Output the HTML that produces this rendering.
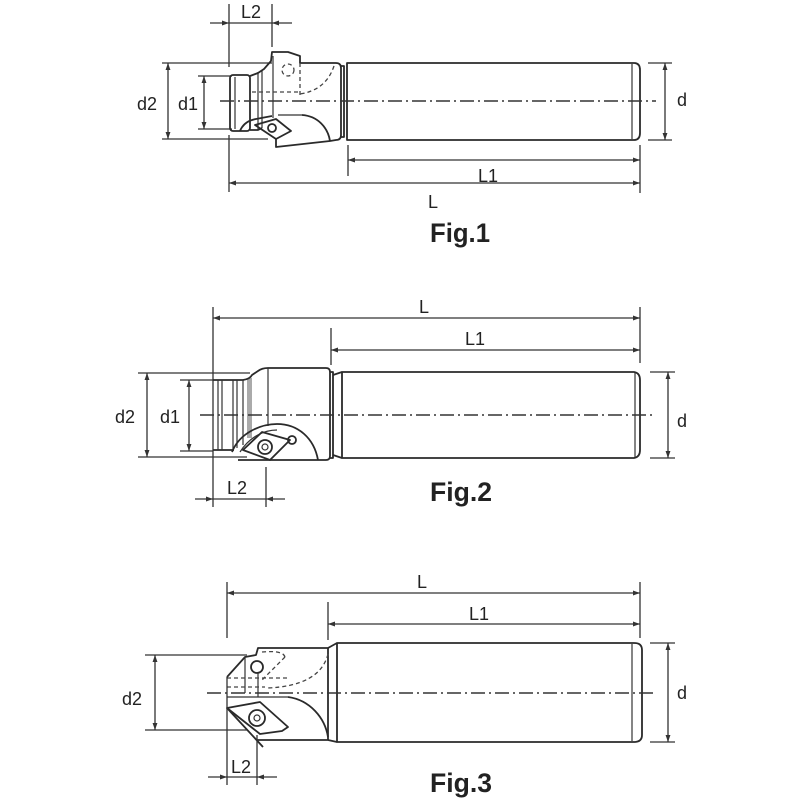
<!DOCTYPE html>
<html><head><meta charset="utf-8"><style>
html,body{margin:0;padding:0;background:#fff;}
svg{display:block;}
text{font-family:"Liberation Sans",sans-serif;fill:#222;}
.o{fill:none;stroke:#2a2a2a;stroke-width:1.8;stroke-linejoin:round;}
.t{fill:none;stroke:#333;stroke-width:1.2;}
.dm{fill:none;stroke:#333;stroke-width:1.3;}
.ds{fill:none;stroke:#444;stroke-width:1.3;stroke-dasharray:4 3;}
.c{fill:none;stroke:#333;stroke-width:1.4;stroke-dasharray:14 4 2 4;}
.lb{font-size:18px;}
.fg{font-size:27px;font-weight:bold;}
</style></head><body>
<svg width="800" height="800" viewBox="0 0 800 800" xmlns="http://www.w3.org/2000/svg">
<defs>
<marker id="a" viewBox="0 0 10 10" refX="10" refY="5" markerWidth="7" markerHeight="7" markerUnits="userSpaceOnUse" orient="auto-start-reverse">
<path d="M0,1.5 L10,5 L0,8.5 Z" fill="#333"/>
</marker>
</defs>

<!-- ============ FIG 1 ============ -->
<!-- L2 -->
<line class="dm" x1="229" y1="4" x2="229" y2="67"/>
<line class="dm" x1="272" y1="4" x2="272" y2="47"/>
<line class="dm" x1="229" y1="23" x2="272" y2="23"/>
<line class="dm" x1="210" y1="23" x2="229" y2="23" marker-end="url(#a)"/>
<line class="dm" x1="292" y1="23" x2="272" y2="23" marker-end="url(#a)"/>
<text class="lb" x="251" y="18" text-anchor="middle">L2</text>
<!-- d2 -->
<line class="dm" x1="162" y1="63" x2="272" y2="63"/>
<line class="dm" x1="162" y1="139" x2="268" y2="139"/>
<line class="dm" x1="168" y1="63" x2="168" y2="139" marker-start="url(#a)" marker-end="url(#a)"/>
<text class="lb" x="147" y="110" text-anchor="middle">d2</text>
<!-- d1 -->
<line class="dm" x1="198" y1="76" x2="232" y2="76"/>
<line class="dm" x1="198" y1="129" x2="232" y2="129"/>
<line class="dm" x1="204" y1="76" x2="204" y2="129" marker-start="url(#a)" marker-end="url(#a)"/>
<text class="lb" x="188" y="110" text-anchor="middle">d1</text>
<!-- head -->
<rect class="o" x="230" y="75" width="20" height="56" rx="3"/>
<line class="t" x1="235" y1="77" x2="235" y2="129"/>
<line class="t" x1="258" y1="72" x2="258" y2="130"/>
<line class="t" x1="262" y1="70" x2="262" y2="128"/>
<path class="o" d="M250,76 L258,73 L264,69 L271,61 L272,52 L288,52 L300,56 L300,63 L336,63 Q341,63 341,68 L341,135 Q341,140 336,140 L330,141 L276,147 L276,139"/>
<path class="o" d="M250,130 L258,130 L262,128"/>
<line class="t" x1="273" y1="56" x2="273" y2="118"/>
<line class="ds" x1="300" y1="63" x2="300" y2="95"/>
<circle class="ds" cx="288" cy="70" r="6"/>
<path class="ds" d="M334,66 Q326,90 300,94"/>
<line class="ds" x1="252" y1="92" x2="300" y2="92"/>
<line class="t" x1="278" y1="115" x2="302" y2="115"/>
<path class="o" d="M302,115 C318,116 328,128 330,141"/>
<path class="o" d="M240,131 Q244,121 256,119 L272,116"/>
<path class="o" d="M255,125 L276,119 L291,131 L276,139 Z"/>
<circle class="o" cx="272" cy="128" r="4"/>
<!-- shank -->
<path class="o" d="M341,66 L344,66 L344,137 L341,137"/>
<path class="o" d="M347,63 L634,63 Q640,63 640,70 L640,133 Q640,140 634,140 L347,140 Z"/>
<line class="t" x1="632" y1="64" x2="632" y2="139"/>
<line class="c" x1="220" y1="101" x2="656" y2="101"/>
<!-- d -->
<line class="dm" x1="648" y1="63" x2="672" y2="63"/>
<line class="dm" x1="648" y1="140" x2="672" y2="140"/>
<line class="dm" x1="665" y1="63" x2="665" y2="140" marker-start="url(#a)" marker-end="url(#a)"/>
<text class="lb" x="682" y="106" text-anchor="middle">d</text>
<!-- L1 / L -->
<line class="dm" x1="348" y1="145" x2="348" y2="176"/>
<line class="dm" x1="640" y1="145" x2="640" y2="193"/>
<line class="dm" x1="348" y1="160" x2="640" y2="160" marker-start="url(#a)" marker-end="url(#a)"/>
<text class="lb" x="488" y="182" text-anchor="middle">L1</text>
<line class="dm" x1="229" y1="135" x2="229" y2="192"/>
<line class="dm" x1="229" y1="183" x2="640" y2="183" marker-start="url(#a)" marker-end="url(#a)"/>
<text class="lb" x="433" y="208" text-anchor="middle">L</text>
<text class="fg" x="430" y="242" textLength="60" lengthAdjust="spacingAndGlyphs">Fig.1</text>

<!-- ============ FIG 2 ============ -->
<line class="dm" x1="213" y1="307" x2="213" y2="507"/>
<line class="dm" x1="640" y1="307" x2="640" y2="363"/>
<line class="dm" x1="213" y1="318" x2="640" y2="318" marker-start="url(#a)" marker-end="url(#a)"/>
<text class="lb" x="424" y="313" text-anchor="middle">L</text>
<line class="dm" x1="331" y1="328" x2="331" y2="365"/>
<line class="dm" x1="331" y1="350" x2="640" y2="350" marker-start="url(#a)" marker-end="url(#a)"/>
<text class="lb" x="475" y="345" text-anchor="middle">L1</text>
<!-- d2 d1 -->
<line class="dm" x1="138" y1="373" x2="250" y2="373"/>
<line class="dm" x1="138" y1="457" x2="247" y2="457"/>
<line class="dm" x1="147" y1="373" x2="147" y2="457" marker-start="url(#a)" marker-end="url(#a)"/>
<text class="lb" x="125" y="423" text-anchor="middle">d2</text>
<line class="dm" x1="180" y1="380" x2="213" y2="380"/>
<line class="dm" x1="180" y1="451" x2="213" y2="451"/>
<line class="dm" x1="189" y1="380" x2="189" y2="451" marker-start="url(#a)" marker-end="url(#a)"/>
<text class="lb" x="170" y="423" text-anchor="middle">d1</text>
<!-- head -->
<line class="o" x1="213" y1="380" x2="243" y2="380"/>
<line class="o" x1="213" y1="450" x2="234" y2="450"/>
<line class="t" x1="218" y1="380" x2="218" y2="450"/>
<line class="t" x1="222" y1="380" x2="222" y2="450"/>
<line class="t" x1="233" y1="380" x2="233" y2="450"/>
<line class="t" x1="237" y1="380" x2="237" y2="448"/>
<line class="t" x1="243" y1="380" x2="243" y2="445"/>
<rect x="247" y="378" width="5" height="60" fill="#aaa"/>
<path class="o" d="M243,380 Q250,379 252,375 L258,371 Q262,368 268,368 L326,368 Q330,368 330,372 L330,456 Q330,460 326,460 L238,460"/>
<line class="t" x1="268" y1="368" x2="268" y2="426"/>
<path class="o" d="M232,452 C240,432 262,424 277,424 C298,424 314,438 318,460"/>
<path class="t" d="M240,452 C250,436 265,430 277,430"/>
<path class="o" d="M243,450 L262,432 L290,440 L270,460 Z"/>
<circle class="o" cx="265" cy="447" r="7"/>
<circle class="t" cx="265" cy="447" r="3"/>
<circle class="o" cx="292" cy="440" r="4"/>
<!-- shank -->
<path class="o" d="M330,372 L333,372 L333,458 L330,458"/>
<path class="o" d="M333,375 L342,372 M333,455 L342,458"/>
<path class="o" d="M342,372 L634,372 Q640,373 640,380 L640,450 Q640,457 634,458 L342,458 Z"/>
<line class="t" x1="635" y1="373" x2="635" y2="457"/>
<line class="c" x1="200" y1="415" x2="656" y2="415"/>
<line class="dm" x1="650" y1="372" x2="675" y2="372"/>
<line class="dm" x1="650" y1="458" x2="675" y2="458"/>
<line class="dm" x1="668" y1="372" x2="668" y2="458" marker-start="url(#a)" marker-end="url(#a)"/>
<text class="lb" x="682" y="427" text-anchor="middle">d</text>
<!-- L2 -->
<line class="dm" x1="266" y1="467" x2="266" y2="507"/>
<line class="dm" x1="213" y1="499" x2="266" y2="499"/>
<line class="dm" x1="195" y1="499" x2="213" y2="499" marker-end="url(#a)"/>
<line class="dm" x1="285" y1="499" x2="266" y2="499" marker-end="url(#a)"/>
<text class="lb" x="237" y="494" text-anchor="middle">L2</text>
<text class="fg" x="430" y="501" textLength="62" lengthAdjust="spacingAndGlyphs">Fig.2</text>

<!-- ============ FIG 3 ============ -->
<line class="dm" x1="227" y1="582" x2="227" y2="638"/>
<line class="dm" x1="640" y1="582" x2="640" y2="638"/>
<line class="dm" x1="227" y1="593" x2="640" y2="593" marker-start="url(#a)" marker-end="url(#a)"/>
<text class="lb" x="422" y="588" text-anchor="middle">L</text>
<line class="dm" x1="328" y1="602" x2="328" y2="640"/>
<line class="dm" x1="328" y1="624" x2="640" y2="624" marker-start="url(#a)" marker-end="url(#a)"/>
<text class="lb" x="479" y="620" text-anchor="middle">L1</text>
<!-- d2 -->
<line class="dm" x1="145" y1="655" x2="247" y2="655"/>
<line class="dm" x1="145" y1="730" x2="247" y2="730"/>
<line class="dm" x1="155" y1="655" x2="155" y2="730" marker-start="url(#a)" marker-end="url(#a)"/>
<text class="lb" x="132" y="705" text-anchor="middle">d2</text>
<!-- head -->
<path class="o" d="M227,677 L245,657 L256,655 L258,648 L328,648 L337,643"/>
<circle class="o" cx="257" cy="667" r="6"/>
<line class="t" x1="245" y1="657" x2="245" y2="693"/>
<line class="t" x1="258" y1="673" x2="258" y2="697"/>
<line class="o" x1="328" y1="648" x2="328" y2="740"/>
<path class="ds" d="M328,654 Q320,686 267,688"/>
<path class="ds" d="M285,657 L262,680"/>
<path class="ds" d="M262,652 Q285,650 285,658"/>
<line class="ds" x1="227" y1="678" x2="290" y2="678"/>
<line class="ds" x1="227" y1="687" x2="265" y2="687"/>
<line class="t" x1="227" y1="697" x2="288" y2="697"/>
<path class="o" d="M288,697 C310,700 325,718 328,737"/>
<path class="o" d="M257,740 L328,740 L337,742"/>
<path class="o" d="M227,708 L260,702 L288,727 L282,731 L260,734 Z"/>
<circle class="o" cx="257" cy="718" r="8"/>
<circle class="t" cx="257" cy="718" r="3"/>
<line class="o" x1="227" y1="708" x2="263" y2="747"/>
<!-- shank -->
<path class="o" d="M337,643 L634,643 Q642,643 642,650 L642,735 Q642,742 634,742 L337,742 Z"/>
<line class="t" x1="632" y1="644" x2="632" y2="741"/>
<line class="c" x1="207" y1="693" x2="654" y2="693"/>
<line class="dm" x1="650" y1="643" x2="675" y2="643"/>
<line class="dm" x1="650" y1="742" x2="675" y2="742"/>
<line class="dm" x1="668" y1="643" x2="668" y2="742" marker-start="url(#a)" marker-end="url(#a)"/>
<text class="lb" x="682" y="699" text-anchor="middle">d</text>
<!-- L2 -->
<line class="dm" x1="227" y1="677" x2="227" y2="785"/>
<line class="dm" x1="257" y1="735" x2="257" y2="785"/>
<line class="dm" x1="227" y1="777" x2="257" y2="777"/>
<line class="dm" x1="208" y1="777" x2="227" y2="777" marker-end="url(#a)"/>
<line class="dm" x1="277" y1="777" x2="257" y2="777" marker-end="url(#a)"/>
<text class="lb" x="241" y="773" text-anchor="middle">L2</text>
<text class="fg" x="430" y="792" textLength="62" lengthAdjust="spacingAndGlyphs">Fig.3</text>
</svg>
</body></html>
